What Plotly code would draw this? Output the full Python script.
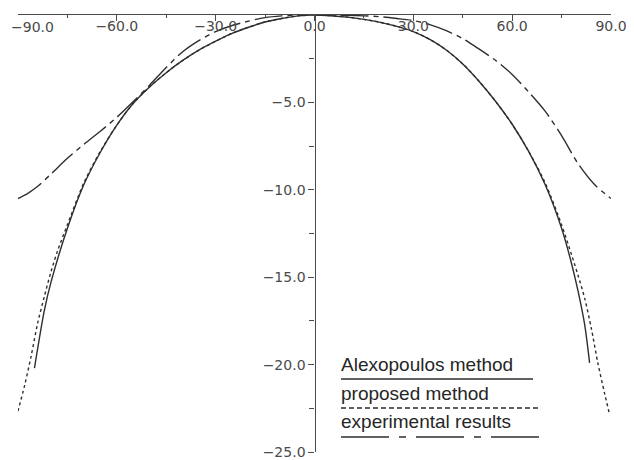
import plotly.graph_objects as go

# ---- data ----
alex_angle = [-85, -82, -80, -75, -70, -65, -60, -55, -50, -45, -40, -35, -30, -25, -20, -15, -10, -5, 0,
              5, 10, 15, 20, 25, 30, 35, 40, 45, 50, 55, 60, 65, 70, 75, 78, 80, 82, 83.5]
alex_gain = [-20.2, -16.9, -15.3, -12.2, -9.7, -7.85, -6.3, -5.05, -4.1, -3.3, -2.6, -2.0, -1.5, -1.05, -0.7, -0.4, -0.2, -0.05, 0.0,
             -0.04, -0.12, -0.25, -0.42, -0.65, -0.95, -1.4, -2.0, -2.8, -3.8, -4.95, -6.25, -7.8, -9.7, -12.2, -14.2, -15.8, -17.7, -19.9]

prop_angle = [-90.5, -88, -86, -84, -82, -80, -78, -75, -70, -65, -60, -55, -50, -45, -40, -35, -30, -25, -20, -15, -10, -5, 0,
              5, 10, 15, 20, 25, 30, 35, 40, 45, 50, 55, 60, 65, 70, 75, 78, 80, 82, 84, 86, 88, 89.5]
prop_gain = [-23.0, -21.2, -19.5, -17.6, -16.1, -14.7, -13.5, -12.0, -9.6, -7.8, -6.3, -5.05, -4.1, -3.3, -2.6, -2.0, -1.5, -1.05, -0.7, -0.4, -0.2, -0.05, 0.0,
             -0.04, -0.12, -0.25, -0.42, -0.65, -0.95, -1.4, -2.0, -2.8, -3.8, -4.95, -6.25, -7.8, -9.6, -12.0, -13.7, -14.9, -16.2, -17.9, -19.9, -21.6, -22.8]

exp_angle = [-90, -87, -84, -80, -75, -70, -65, -60, -55, -50, -45, -40, -35, -30, -25, -20, -15, -10, -5, 0,
             5, 10, 15, 20, 25, 30, 35, 40, 45, 50, 55, 60, 65, 70, 75, 80, 85, 88, 90]
exp_gain = [-10.5, -10.2, -9.8, -9.1, -8.2, -7.4, -6.65, -5.85, -4.95, -4.0, -3.0, -2.1, -1.45, -0.95, -0.6, -0.35, -0.15, -0.05, 0.0, 0.0,
            0.0, -0.02, -0.05, -0.1, -0.2, -0.32, -0.55, -0.9, -1.35, -1.95, -2.6, -3.4, -4.4, -5.5, -6.9, -8.5, -9.7, -10.2, -10.5]

series_names = ["Alexopoulos method", "proposed method", "experimental results"]
x_tick_vals = [-90, -60, -30, 0, 30, 60, 90]
x_tick_text = ["", "\u221260.0", "\u221230.0", "0.0", "30.0", "60.0", "90.0"]
x_end_label = "\u221290.0"   # drawn as an annotation, shifted to stay inside the page
y_tick_vals = [0, -5, -10, -15, -20, -25]
y_tick_text = ["0.0", "\u22125.0", "\u221210.0", "\u221215.0", "\u221220.0", "\u221225.0"]

INK = "#2e2e2e"
AXC = "#4a4a4a"
dash_styles = ["solid", "3px,3px", "28px,5px,5px,5px"]
legend_dash = ["solid", "5px,3px", "48px,10px,7px,10px"]

fig = go.Figure()
for xs, ys, name, d in zip([alex_angle, prop_angle, exp_angle], [alex_gain, prop_gain, exp_gain], series_names, dash_styles):
    fig.add_trace(go.Scatter(x=xs, y=ys, mode="lines", name=name, line_shape="spline",
                             line=dict(color=INK, width=1.4, dash=d, smoothing=0.8)))

# page body has an 8px default margin: figure is drawn at (8, 8)
OFF = 8
W, H = 634 - OFF, 460 - OFF
ml, mr, mt, mb = 18 - OFF, 23, 15 - OFF, 8
pw, ph = W - ml - mr, H - mt - mb

def px2paper(px, py):
    # reference-image pixels -> paper fraction
    fx, fy = px - OFF, py - OFF
    return (fx - ml) / pw, (H - mb - fy) / ph

tick_font = dict(family="DejaVu Sans", size=14, color="#4a4a4a")

# custom legend: text with a line sample underneath
text_y = [364, 393, 421]
line_y = [379, 408, 437]
line_x1 = [533, 539, 545]
annotations = []
shapes = []
for name, ty, ly, x1, d in zip(series_names, text_y, line_y, line_x1, legend_dash):
    ax, ay = px2paper(339, ty)
    annotations.append(dict(x=ax, y=ay, xref="paper", yref="paper", text=name, showarrow=False,
                            xanchor="left", yanchor="middle",
                            font=dict(family="Liberation Sans, Arial", size=19, color="#262626")))
    sx0, sy = px2paper(341, ly)
    sx1, _ = px2paper(x1, ly)
    shapes.append(dict(type="line", xref="paper", yref="paper", x0=sx0, x1=sx1, y0=sy, y1=sy,
                       line=dict(color=INK, width=1.4, dash=d)))

annotations.append(dict(x=x_tick_vals[0], y=0, xref="x", yref="y", text=x_end_label, showarrow=False,
                        xanchor="left", yanchor="top", xshift=-9, yshift=-2, font=tick_font))

fig.update_layout(
    width=W, height=H,
    margin=dict(l=ml, r=mr, t=mt, b=mb),
    paper_bgcolor="white", plot_bgcolor="white",
    showlegend=False,
    annotations=annotations, shapes=shapes,
    xaxis=dict(range=[-90, 90], side="top", showline=True, linecolor=AXC, linewidth=1.3,
               automargin=False,
               ticks="inside", ticklen=6, tickcolor=AXC, tickwidth=1.2,
               ticklabelposition="inside", ticklabeloverflow="allow",
               tickvals=x_tick_vals, ticktext=x_tick_text, tickfont=tick_font,
               minor=dict(dtick=15, tick0=0, ticks="inside", ticklen=3, tickcolor=AXC),
               showgrid=False, zeroline=False),
    yaxis=dict(range=[-25, 0], anchor="free", position=0.5, side="left",
               automargin=False,
               showline=True, linecolor=AXC, linewidth=1.3,
               ticks="outside", ticklen=6, tickcolor=AXC, tickwidth=1.2,
               tickvals=y_tick_vals, ticktext=y_tick_text, tickfont=tick_font,
               minor=dict(dtick=2.5, tick0=0, ticks="outside", ticklen=5, tickcolor=AXC),
               showgrid=False, zeroline=False),
)

fig.write_html("out.html")
